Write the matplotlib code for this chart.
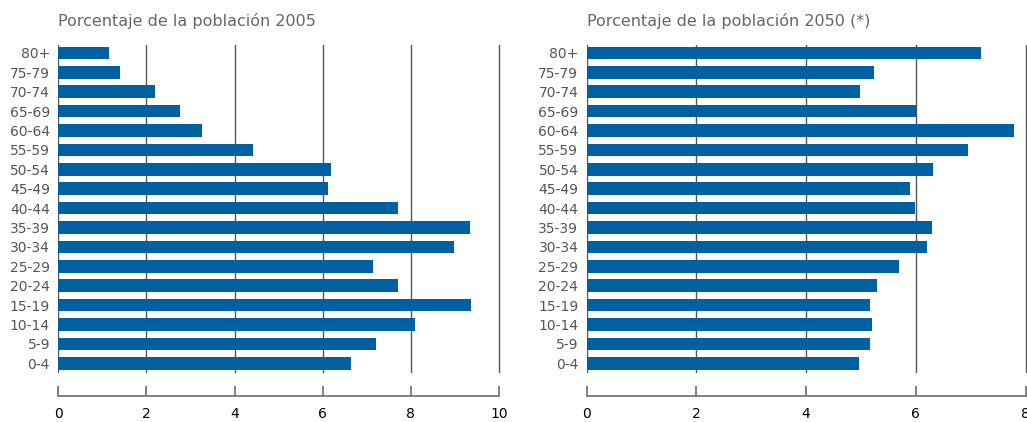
import matplotlib
matplotlib.use("Agg")
import matplotlib.pyplot as plt

categories = ["0-4", "5-9", "10-14", "15-19", "20-24", "25-29", "30-34", "35-39",
              "40-44", "45-49", "50-54", "55-59", "60-64", "65-69", "70-74", "75-79", "80+"]
values_2005 = [6.64, 7.20, 8.09, 9.36, 7.71, 7.14, 8.97, 9.35,
               7.71, 6.12, 6.18, 4.42, 3.25, 2.76, 2.19, 1.41, 1.15]
values_2050 = [4.96, 5.16, 5.20, 5.17, 5.30, 5.70, 6.20, 6.30,
               5.99, 5.89, 6.32, 6.96, 7.79, 6.00, 4.99, 5.24, 7.18]
ticks_2005 = [0, 2, 4, 6, 8, 10]
ticks_2050 = [0, 2, 4, 6, 8]
title_2005 = "Porcentaje de la población 2005"
title_2050 = "Porcentaje de la población 2050 (*)"

W, H = 1027, 422
fig = plt.figure(figsize=(W / 100, H / 100), dpi=100)

BAR = "#0060a0"
TXT = "#555555"
GRID = "#555555"
SPINE = "#777777"

top_px, bot_px = 45, 373
# (left px, px per unit, data, ticks, max tick, title)
panels = [
    (58.3, 44.07, values_2005, ticks_2005, 10, title_2005),
    (586.7, 54.85, values_2050, ticks_2050, 8, title_2050),
]

for x0, scale, vals, ticks, xmax, title in panels:
    ext = xmax + 0.04
    ax = fig.add_axes([x0 / W, 1 - bot_px / H, scale * ext / W, (bot_px - top_px) / H])
    y = list(range(len(categories)))
    ax.barh(y, vals, height=0.65, color=BAR, zorder=2)
    ax.set_xlim(0, ext)
    ax.set_ylim(-0.5, len(categories) - 1 + 0.41)
    ax.set_xticks(ticks)
    ax.set_xticklabels([str(t) for t in ticks], fontsize=10, color=TXT)
    ax.set_yticks(y)
    ax.set_yticklabels(categories, fontsize=10, color=TXT)
    ax.grid(axis="x", color=GRID, linewidth=1.0, zorder=0)
    ax.set_axisbelow(True)
    for s in ("top", "right", "left"):
        ax.spines[s].set_visible(False)
    ax.spines["bottom"].set_position(("outward", 16.5))
    ax.spines["bottom"].set_bounds(0, xmax)
    ax.spines["bottom"].set_color(SPINE)
    ax.spines["bottom"].set_linewidth(1.3)
    ax.tick_params(axis="x", direction="in", length=7, width=1.3, color=SPINE, pad=8)
    ax.tick_params(axis="y", length=0, pad=6)
    fig.text(x0 / W, 1 - 21 / H, title, fontsize=11.5, color="#666666",
             ha="left", va="center")

fig.savefig("out.png", dpi=100)
